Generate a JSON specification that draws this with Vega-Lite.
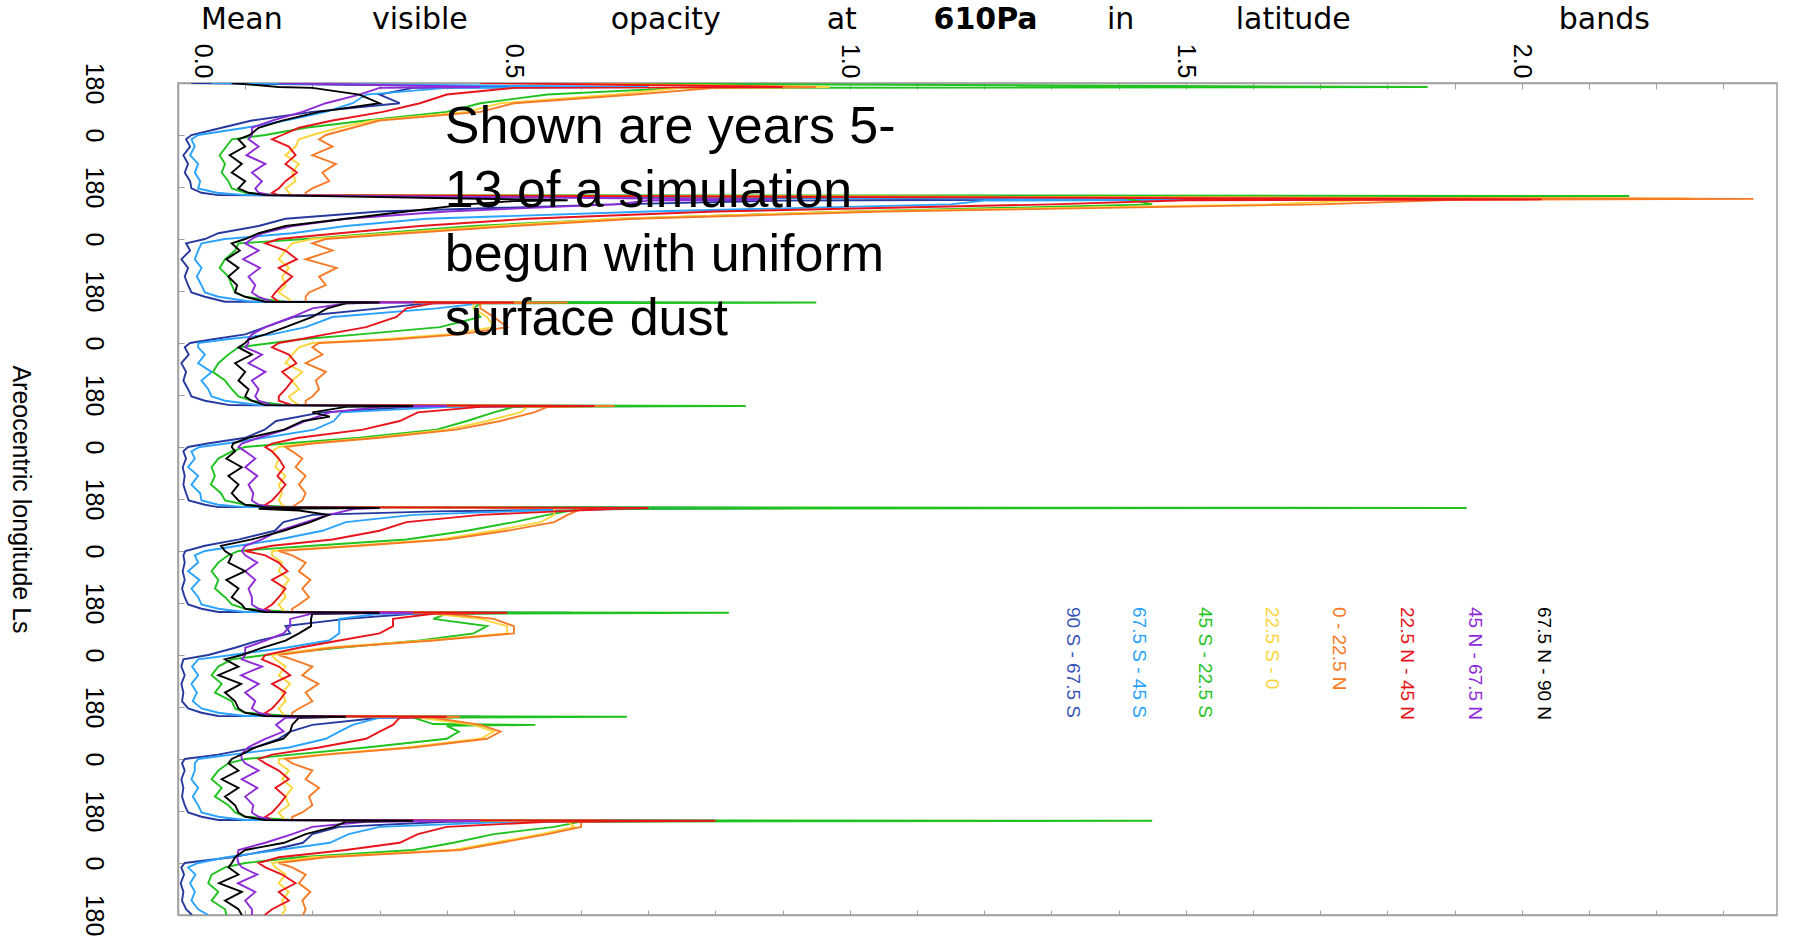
{
"$schema":"https://vega.github.io/schema/vega-lite/v6.json",
"width":1599,"height":832,
"autosize":{"type":"none"},
"padding":{"left":178,"top":83,"right":16,"bottom":21},
"background":"white",
"config":{"view":{"stroke":"#a0a0a0","strokeWidth":1.5},"axis":{"domainColor":"#a0a0a0","tickColor":"#a0a0a0","labelColor":"#000000","grid":false,"labelFont":"Liberation Sans","titleFont":"Liberation Sans","titleColor":"#000000"}},
"resolve":{"axis":{"x":"independent","y":"independent"}},
"layer":[
{"data":{"values":[
{"s":8,"l":0,"v":0.02},{"s":8,"l":14,"v":0.55},{"s":8,"l":17,"v":0.35},{"s":8,"l":40,"v":0.3},{"s":8,"l":70,"v":0.33},{"s":8,"l":100,"v":0.2},{"s":8,"l":130,"v":0.11},{"s":8,"l":155,"v":0.065},
{"s":8,"l":180,"v":0.02},{"s":8,"l":195,"v":0.012},{"s":8,"l":220,"v":0.018},{"s":8,"l":250,"v":0.008},{"s":8,"l":280,"v":0.015},{"s":8,"l":310,"v":0.01},{"s":8,"l":340,"v":0.018},{"s":8,"l":365,"v":0.02},{"s":8,"l":380,"v":0.035},{"s":8,"l":388,"v":0.06},
{"s":8,"l":404,"v":1.33},{"s":8,"l":407,"v":0.9},{"s":8,"l":420,"v":0.65},{"s":8,"l":445,"v":0.3},{"s":8,"l":470,"v":0.16},{"s":8,"l":495,"v":0.12},{"s":8,"l":520,"v":0.06},
{"s":8,"l":540,"v":0.04},{"s":8,"l":555,"v":0.012},{"s":8,"l":580,"v":0.018},{"s":8,"l":610,"v":0.005},{"s":8,"l":640,"v":0.015},{"s":8,"l":670,"v":0.01},{"s":8,"l":700,"v":0.015},{"s":8,"l":725,"v":0.02},{"s":8,"l":740,"v":0.04},{"s":8,"l":757,"v":0.07},
{"s":8,"l":760,"v":0.55},{"s":8,"l":763,"v":0.37},{"s":8,"l":780,"v":0.3},{"s":8,"l":810,"v":0.172},{"s":8,"l":845,"v":0.13},{"s":8,"l":870,"v":0.1},{"s":8,"l":888,"v":0.05},
{"s":8,"l":900,"v":0.018},{"s":8,"l":915,"v":0.01},{"s":8,"l":940,"v":0.016},{"s":8,"l":970,"v":0.005},{"s":8,"l":1000,"v":0.012},{"s":8,"l":1030,"v":0.008},{"s":8,"l":1060,"v":0.015},{"s":8,"l":1085,"v":0.02},{"s":8,"l":1100,"v":0.04},{"s":8,"l":1115,"v":0.077},
{"s":8,"l":1118,"v":0.53},{"s":8,"l":1121,"v":0.35},{"s":8,"l":1140,"v":0.214},{"s":8,"l":1170,"v":0.146},{"s":8,"l":1200,"v":0.129},{"s":8,"l":1228,"v":0.1},{"s":8,"l":1248,"v":0.044},
{"s":8,"l":1260,"v":0.015},{"s":8,"l":1275,"v":0.008},{"s":8,"l":1300,"v":0.012},{"s":8,"l":1330,"v":0.007},{"s":8,"l":1360,"v":0.01},{"s":8,"l":1390,"v":0.008},{"s":8,"l":1420,"v":0.012},{"s":8,"l":1445,"v":0.016},{"s":8,"l":1460,"v":0.04},{"s":8,"l":1468,"v":0.06},
{"s":8,"l":1471,"v":0.94},{"s":8,"l":1474,"v":0.7},{"s":8,"l":1483,"v":0.383},{"s":8,"l":1495,"v":0.2},{"s":8,"l":1520,"v":0.157},{"s":8,"l":1550,"v":0.144},{"s":8,"l":1580,"v":0.091},{"s":8,"l":1602,"v":0.04},
{"s":8,"l":1620,"v":0.011},{"s":8,"l":1635,"v":0.008},{"s":8,"l":1660,"v":0.01},{"s":8,"l":1690,"v":0.007},{"s":8,"l":1720,"v":0.01},{"s":8,"l":1750,"v":0.006},{"s":8,"l":1780,"v":0.01},{"s":8,"l":1805,"v":0.015},{"s":8,"l":1820,"v":0.035},{"s":8,"l":1831,"v":0.06},
{"s":8,"l":1834,"v":0.585},{"s":8,"l":1837,"v":0.35},{"s":8,"l":1855,"v":0.25},{"s":8,"l":1880,"v":0.16},{"s":8,"l":1905,"v":0.167},{"s":8,"l":1930,"v":0.12},{"s":8,"l":1955,"v":0.085},
{"s":8,"l":1980,"v":0.045},{"s":8,"l":1995,"v":0.008},{"s":8,"l":2020,"v":0.005},{"s":8,"l":2050,"v":0.01},{"s":8,"l":2080,"v":0.005},{"s":8,"l":2110,"v":0.008},{"s":8,"l":2140,"v":0.006},{"s":8,"l":2165,"v":0.015},{"s":8,"l":2180,"v":0.035},{"s":8,"l":2191,"v":0.06},
{"s":8,"l":2194,"v":0.45},{"s":8,"l":2197,"v":0.3},{"s":8,"l":2222,"v":0.2},{"s":8,"l":2245,"v":0.167},{"s":8,"l":2270,"v":0.15},{"s":8,"l":2300,"v":0.115},{"s":8,"l":2325,"v":0.06},
{"s":8,"l":2340,"v":0.01},{"s":8,"l":2355,"v":0.006},{"s":8,"l":2380,"v":0.01},{"s":8,"l":2410,"v":0.005},{"s":8,"l":2440,"v":0.008},{"s":8,"l":2470,"v":0.006},{"s":8,"l":2500,"v":0.01},{"s":8,"l":2525,"v":0.015},{"s":8,"l":2540,"v":0.035},{"s":8,"l":2551,"v":0.06},
{"s":8,"l":2554,"v":0.66},{"s":8,"l":2557,"v":0.4},{"s":8,"l":2575,"v":0.24},{"s":8,"l":2600,"v":0.2},{"s":8,"l":2630,"v":0.186},{"s":8,"l":2655,"v":0.14},{"s":8,"l":2680,"v":0.08},
{"s":8,"l":2700,"v":0.01},{"s":8,"l":2715,"v":0.005},{"s":8,"l":2740,"v":0.009},{"s":8,"l":2770,"v":0.004},{"s":8,"l":2800,"v":0.008},{"s":8,"l":2830,"v":0.006},{"s":8,"l":2860,"v":0.012},{"s":8,"l":2880,"v":0.021},

{"s":7,"l":0,"v":0.05},{"s":7,"l":14,"v":0.7},{"s":7,"l":17,"v":0.4},{"s":7,"l":40,"v":0.28},{"s":7,"l":70,"v":0.26},{"s":7,"l":100,"v":0.22},{"s":7,"l":130,"v":0.16},{"s":7,"l":155,"v":0.1},
{"s":7,"l":180,"v":0.03},{"s":7,"l":195,"v":0.02},{"s":7,"l":220,"v":0.025},{"s":7,"l":250,"v":0.018},{"s":7,"l":280,"v":0.03},{"s":7,"l":310,"v":0.025},{"s":7,"l":340,"v":0.033},{"s":7,"l":365,"v":0.03},{"s":7,"l":380,"v":0.058},{"s":7,"l":388,"v":0.1},
{"s":7,"l":404,"v":1.52},{"s":7,"l":407,"v":1.2},{"s":7,"l":420,"v":1.15},{"s":7,"l":445,"v":0.7},{"s":7,"l":470,"v":0.37},{"s":7,"l":495,"v":0.25},{"s":7,"l":520,"v":0.17},
{"s":7,"l":540,"v":0.07},{"s":7,"l":555,"v":0.035},{"s":7,"l":580,"v":0.03},{"s":7,"l":610,"v":0.025},{"s":7,"l":640,"v":0.035},{"s":7,"l":670,"v":0.028},{"s":7,"l":700,"v":0.035},{"s":7,"l":725,"v":0.04},{"s":7,"l":740,"v":0.06},{"s":7,"l":757,"v":0.11},
{"s":7,"l":760,"v":0.68},{"s":7,"l":763,"v":0.45},{"s":7,"l":780,"v":0.385},{"s":7,"l":810,"v":0.23},{"s":7,"l":845,"v":0.19},{"s":7,"l":870,"v":0.14},{"s":7,"l":888,"v":0.07},
{"s":7,"l":900,"v":0.03},{"s":7,"l":915,"v":0.03},{"s":7,"l":940,"v":0.04},{"s":7,"l":970,"v":0.03},{"s":7,"l":1000,"v":0.05},{"s":7,"l":1030,"v":0.035},{"s":7,"l":1060,"v":0.045},{"s":7,"l":1085,"v":0.05},{"s":7,"l":1100,"v":0.07},{"s":7,"l":1115,"v":0.12},
{"s":7,"l":1118,"v":0.71},{"s":7,"l":1121,"v":0.4},{"s":7,"l":1140,"v":0.243},{"s":7,"l":1170,"v":0.232},{"s":7,"l":1200,"v":0.203},{"s":7,"l":1228,"v":0.129},{"s":7,"l":1248,"v":0.072},
{"s":7,"l":1260,"v":0.032},{"s":7,"l":1275,"v":0.02},{"s":7,"l":1300,"v":0.025},{"s":7,"l":1330,"v":0.015},{"s":7,"l":1360,"v":0.03},{"s":7,"l":1390,"v":0.02},{"s":7,"l":1420,"v":0.033},{"s":7,"l":1445,"v":0.035},{"s":7,"l":1460,"v":0.06},{"s":7,"l":1468,"v":0.1},
{"s":7,"l":1471,"v":0.8},{"s":7,"l":1474,"v":0.6},{"s":7,"l":1495,"v":0.35},{"s":7,"l":1520,"v":0.25},{"s":7,"l":1550,"v":0.215},{"s":7,"l":1580,"v":0.15},{"s":7,"l":1602,"v":0.09},
{"s":7,"l":1620,"v":0.04},{"s":7,"l":1635,"v":0.025},{"s":7,"l":1660,"v":0.03},{"s":7,"l":1690,"v":0.015},{"s":7,"l":1720,"v":0.032},{"s":7,"l":1750,"v":0.02},{"s":7,"l":1780,"v":0.03},{"s":7,"l":1805,"v":0.035},{"s":7,"l":1820,"v":0.06},{"s":7,"l":1831,"v":0.1},
{"s":7,"l":1834,"v":0.5},{"s":7,"l":1837,"v":0.3},{"s":7,"l":1855,"v":0.24},{"s":7,"l":1880,"v":0.24},{"s":7,"l":1905,"v":0.24},{"s":7,"l":1930,"v":0.225},{"s":7,"l":1955,"v":0.16},
{"s":7,"l":1980,"v":0.08},{"s":7,"l":1995,"v":0.03},{"s":7,"l":2020,"v":0.021},{"s":7,"l":2050,"v":0.03},{"s":7,"l":2080,"v":0.02},{"s":7,"l":2110,"v":0.028},{"s":7,"l":2140,"v":0.022},{"s":7,"l":2165,"v":0.035},{"s":7,"l":2180,"v":0.06},{"s":7,"l":2191,"v":0.1},
{"s":7,"l":2194,"v":0.4},{"s":7,"l":2197,"v":0.3},{"s":7,"l":2222,"v":0.26},{"s":7,"l":2245,"v":0.24},{"s":7,"l":2270,"v":0.22},{"s":7,"l":2300,"v":0.165},{"s":7,"l":2325,"v":0.08},
{"s":7,"l":2340,"v":0.03},{"s":7,"l":2355,"v":0.025},{"s":7,"l":2380,"v":0.025},{"s":7,"l":2410,"v":0.02},{"s":7,"l":2440,"v":0.03},{"s":7,"l":2470,"v":0.022},{"s":7,"l":2500,"v":0.03},{"s":7,"l":2525,"v":0.035},{"s":7,"l":2540,"v":0.06},{"s":7,"l":2551,"v":0.1},
{"s":7,"l":2554,"v":0.8},{"s":7,"l":2557,"v":0.5},{"s":7,"l":2575,"v":0.3},{"s":7,"l":2600,"v":0.254},{"s":7,"l":2630,"v":0.226},{"s":7,"l":2655,"v":0.15},{"s":7,"l":2680,"v":0.072},
{"s":7,"l":2700,"v":0.03},{"s":7,"l":2715,"v":0.015},{"s":7,"l":2740,"v":0.026},{"s":7,"l":2770,"v":0.018},{"s":7,"l":2800,"v":0.025},{"s":7,"l":2830,"v":0.02},{"s":7,"l":2860,"v":0.03},{"s":7,"l":2880,"v":0.045},

{"s":6,"l":0,"v":0.45},{"s":6,"l":14,"v":1.86},{"s":6,"l":17,"v":0.75},{"s":6,"l":40,"v":0.55},{"s":6,"l":70,"v":0.45},{"s":6,"l":100,"v":0.4},{"s":6,"l":130,"v":0.28},{"s":6,"l":155,"v":0.19},
{"s":6,"l":180,"v":0.13},{"s":6,"l":195,"v":0.08},{"s":6,"l":220,"v":0.072},{"s":6,"l":250,"v":0.062},{"s":6,"l":280,"v":0.07},{"s":6,"l":310,"v":0.065},{"s":6,"l":340,"v":0.075},{"s":6,"l":365,"v":0.08},{"s":6,"l":380,"v":0.1},{"s":6,"l":388,"v":0.15},
{"s":6,"l":391,"v":2.16},{"s":6,"l":394,"v":1.4},{"s":6,"l":420,"v":1.45},{"s":6,"l":445,"v":1.0},{"s":6,"l":470,"v":0.66},{"s":6,"l":495,"v":0.44},{"s":6,"l":520,"v":0.3},
{"s":6,"l":540,"v":0.19},{"s":6,"l":555,"v":0.09},{"s":6,"l":580,"v":0.085},{"s":6,"l":610,"v":0.07},{"s":6,"l":640,"v":0.062},{"s":6,"l":670,"v":0.075},{"s":6,"l":700,"v":0.08},{"s":6,"l":725,"v":0.085},{"s":6,"l":740,"v":0.1},{"s":6,"l":757,"v":0.16},
{"s":6,"l":760,"v":0.95},{"s":6,"l":763,"v":0.45},{"s":6,"l":780,"v":0.44},{"s":6,"l":810,"v":0.45},{"s":6,"l":845,"v":0.39},{"s":6,"l":870,"v":0.27},{"s":6,"l":888,"v":0.18},
{"s":6,"l":900,"v":0.14},{"s":6,"l":915,"v":0.09},{"s":6,"l":940,"v":0.075},{"s":6,"l":970,"v":0.06},{"s":6,"l":1000,"v":0.052},{"s":6,"l":1030,"v":0.07},{"s":6,"l":1060,"v":0.08},{"s":6,"l":1085,"v":0.09},{"s":6,"l":1100,"v":0.11},{"s":6,"l":1115,"v":0.16},
{"s":6,"l":1118,"v":0.845},{"s":6,"l":1121,"v":0.5},{"s":6,"l":1140,"v":0.47},{"s":6,"l":1170,"v":0.43},{"s":6,"l":1200,"v":0.385},{"s":6,"l":1228,"v":0.27},{"s":6,"l":1248,"v":0.16},
{"s":6,"l":1260,"v":0.1},{"s":6,"l":1275,"v":0.08},{"s":6,"l":1300,"v":0.06},{"s":6,"l":1330,"v":0.05},{"s":6,"l":1360,"v":0.055},{"s":6,"l":1390,"v":0.049},{"s":6,"l":1420,"v":0.064},{"s":6,"l":1445,"v":0.07},{"s":6,"l":1460,"v":0.1},{"s":6,"l":1468,"v":0.18},
{"s":6,"l":1471,"v":1.918},{"s":6,"l":1474,"v":0.6},{"s":6,"l":1495,"v":0.55},{"s":6,"l":1520,"v":0.5},{"s":6,"l":1550,"v":0.43},{"s":6,"l":1580,"v":0.34},{"s":6,"l":1602,"v":0.2},
{"s":6,"l":1620,"v":0.09},{"s":6,"l":1635,"v":0.075},{"s":6,"l":1660,"v":0.06},{"s":6,"l":1690,"v":0.05},{"s":6,"l":1720,"v":0.06},{"s":6,"l":1750,"v":0.055},{"s":6,"l":1780,"v":0.07},{"s":6,"l":1805,"v":0.08},{"s":6,"l":1820,"v":0.1},{"s":6,"l":1831,"v":0.17},
{"s":6,"l":1834,"v":0.82},{"s":6,"l":1837,"v":0.4},{"s":6,"l":1855,"v":0.38},{"s":6,"l":1880,"v":0.46},{"s":6,"l":1905,"v":0.44},{"s":6,"l":1930,"v":0.36},{"s":6,"l":1955,"v":0.24},
{"s":6,"l":1980,"v":0.13},{"s":6,"l":1995,"v":0.08},{"s":6,"l":2020,"v":0.06},{"s":6,"l":2050,"v":0.05},{"s":6,"l":2080,"v":0.065},{"s":6,"l":2110,"v":0.055},{"s":6,"l":2140,"v":0.08},{"s":6,"l":2165,"v":0.085},{"s":6,"l":2180,"v":0.1},{"s":6,"l":2191,"v":0.17},
{"s":6,"l":2194,"v":0.668},{"s":6,"l":2197,"v":0.35},{"s":6,"l":2219,"v":0.38},{"s":6,"l":2222,"v":0.532},{"s":6,"l":2225,"v":0.4},{"s":6,"l":2245,"v":0.418},{"s":6,"l":2270,"v":0.4},{"s":6,"l":2300,"v":0.28},{"s":6,"l":2325,"v":0.17},
{"s":6,"l":2340,"v":0.1},{"s":6,"l":2355,"v":0.075},{"s":6,"l":2380,"v":0.06},{"s":6,"l":2410,"v":0.05},{"s":6,"l":2440,"v":0.065},{"s":6,"l":2470,"v":0.055},{"s":6,"l":2500,"v":0.075},{"s":6,"l":2525,"v":0.085},{"s":6,"l":2540,"v":0.1},{"s":6,"l":2551,"v":0.17},
{"s":6,"l":2554,"v":1.45},{"s":6,"l":2557,"v":0.6},{"s":6,"l":2575,"v":0.56},{"s":6,"l":2600,"v":0.47},{"s":6,"l":2630,"v":0.41},{"s":6,"l":2655,"v":0.35},{"s":6,"l":2680,"v":0.18},
{"s":6,"l":2700,"v":0.1},{"s":6,"l":2715,"v":0.07},{"s":6,"l":2740,"v":0.05},{"s":6,"l":2770,"v":0.045},{"s":6,"l":2800,"v":0.06},{"s":6,"l":2830,"v":0.05},{"s":6,"l":2860,"v":0.07},{"s":6,"l":2880,"v":0.072},

{"s":5,"l":0,"v":0.5},{"s":5,"l":14,"v":0.97},{"s":5,"l":17,"v":0.75},{"s":5,"l":40,"v":0.65},{"s":5,"l":70,"v":0.48},{"s":5,"l":100,"v":0.43},{"s":5,"l":130,"v":0.29},{"s":5,"l":155,"v":0.24},
{"s":5,"l":180,"v":0.2},{"s":5,"l":195,"v":0.18},{"s":5,"l":220,"v":0.175},{"s":5,"l":250,"v":0.16},{"s":5,"l":280,"v":0.18},{"s":5,"l":310,"v":0.17},{"s":5,"l":340,"v":0.175},{"s":5,"l":365,"v":0.16},{"s":5,"l":380,"v":0.165},{"s":5,"l":388,"v":0.17},
{"s":5,"l":400,"v":2.25},{"s":5,"l":403,"v":1.8},{"s":5,"l":420,"v":1.62},{"s":5,"l":445,"v":1.0},{"s":5,"l":470,"v":0.65},{"s":5,"l":495,"v":0.47},{"s":5,"l":520,"v":0.32},
{"s":5,"l":540,"v":0.2},{"s":5,"l":555,"v":0.17},{"s":5,"l":580,"v":0.16},{"s":5,"l":610,"v":0.15},{"s":5,"l":640,"v":0.165},{"s":5,"l":670,"v":0.155},{"s":5,"l":700,"v":0.16},{"s":5,"l":725,"v":0.15},{"s":5,"l":740,"v":0.16},{"s":5,"l":757,"v":0.17},
{"s":5,"l":760,"v":0.52},{"s":5,"l":763,"v":0.44},{"s":5,"l":780,"v":0.44},{"s":5,"l":810,"v":0.46},{"s":5,"l":845,"v":0.47},{"s":5,"l":870,"v":0.4},{"s":5,"l":888,"v":0.3},
{"s":5,"l":900,"v":0.2},{"s":5,"l":915,"v":0.18},{"s":5,"l":940,"v":0.17},{"s":5,"l":970,"v":0.16},{"s":5,"l":1000,"v":0.185},{"s":5,"l":1030,"v":0.17},{"s":5,"l":1060,"v":0.18},{"s":5,"l":1085,"v":0.165},{"s":5,"l":1100,"v":0.17},{"s":5,"l":1115,"v":0.18},
{"s":5,"l":1118,"v":0.6},{"s":5,"l":1121,"v":0.52},{"s":5,"l":1140,"v":0.51},{"s":5,"l":1170,"v":0.46},{"s":5,"l":1200,"v":0.4},{"s":5,"l":1228,"v":0.29},{"s":5,"l":1248,"v":0.19},
{"s":5,"l":1260,"v":0.15},{"s":5,"l":1275,"v":0.14},{"s":5,"l":1300,"v":0.15},{"s":5,"l":1330,"v":0.145},{"s":5,"l":1360,"v":0.16},{"s":5,"l":1390,"v":0.15},{"s":5,"l":1420,"v":0.155},{"s":5,"l":1445,"v":0.15},{"s":5,"l":1460,"v":0.155},{"s":5,"l":1468,"v":0.16},
{"s":5,"l":1471,"v":0.6},{"s":5,"l":1474,"v":0.56},{"s":5,"l":1495,"v":0.56},{"s":5,"l":1520,"v":0.54},{"s":5,"l":1550,"v":0.47},{"s":5,"l":1580,"v":0.39},{"s":5,"l":1602,"v":0.26},
{"s":5,"l":1620,"v":0.14},{"s":5,"l":1635,"v":0.14},{"s":5,"l":1660,"v":0.155},{"s":5,"l":1690,"v":0.15},{"s":5,"l":1720,"v":0.165},{"s":5,"l":1750,"v":0.155},{"s":5,"l":1780,"v":0.16},{"s":5,"l":1805,"v":0.15},{"s":5,"l":1820,"v":0.155},{"s":5,"l":1831,"v":0.16},
{"s":5,"l":1834,"v":0.42},{"s":5,"l":1837,"v":0.38},{"s":5,"l":1855,"v":0.45},{"s":5,"l":1880,"v":0.49},{"s":5,"l":1905,"v":0.49},{"s":5,"l":1930,"v":0.37},{"s":5,"l":1955,"v":0.22},
{"s":5,"l":1980,"v":0.14},{"s":5,"l":1995,"v":0.145},{"s":5,"l":2020,"v":0.16},{"s":5,"l":2050,"v":0.15},{"s":5,"l":2080,"v":0.167},{"s":5,"l":2110,"v":0.155},{"s":5,"l":2140,"v":0.16},{"s":5,"l":2165,"v":0.15},{"s":5,"l":2180,"v":0.155},{"s":5,"l":2191,"v":0.16},
{"s":5,"l":2194,"v":0.4},{"s":5,"l":2197,"v":0.36},{"s":5,"l":2222,"v":0.44},{"s":5,"l":2245,"v":0.47},{"s":5,"l":2270,"v":0.45},{"s":5,"l":2300,"v":0.34},{"s":5,"l":2325,"v":0.21},
{"s":5,"l":2340,"v":0.15},{"s":5,"l":2355,"v":0.15},{"s":5,"l":2380,"v":0.165},{"s":5,"l":2410,"v":0.155},{"s":5,"l":2440,"v":0.17},{"s":5,"l":2470,"v":0.16},{"s":5,"l":2500,"v":0.165},{"s":5,"l":2525,"v":0.15},{"s":5,"l":2540,"v":0.155},{"s":5,"l":2551,"v":0.16},
{"s":5,"l":2554,"v":0.62},{"s":5,"l":2557,"v":0.58},{"s":5,"l":2575,"v":0.59},{"s":5,"l":2600,"v":0.54},{"s":5,"l":2630,"v":0.47},{"s":5,"l":2655,"v":0.41},{"s":5,"l":2680,"v":0.2},
{"s":5,"l":2700,"v":0.14},{"s":5,"l":2715,"v":0.145},{"s":5,"l":2740,"v":0.16},{"s":5,"l":2770,"v":0.15},{"s":5,"l":2800,"v":0.165},{"s":5,"l":2830,"v":0.155},{"s":5,"l":2860,"v":0.16},{"s":5,"l":2880,"v":0.155},

{"s":4,"l":0,"v":0.55},{"s":4,"l":14,"v":0.95},{"s":4,"l":17,"v":0.8},{"s":4,"l":40,"v":0.68},{"s":4,"l":70,"v":0.5},{"s":4,"l":100,"v":0.45},{"s":4,"l":130,"v":0.3},{"s":4,"l":155,"v":0.26},
{"s":4,"l":180,"v":0.22},{"s":4,"l":195,"v":0.21},{"s":4,"l":220,"v":0.23},{"s":4,"l":250,"v":0.2},{"s":4,"l":280,"v":0.235},{"s":4,"l":310,"v":0.215},{"s":4,"l":340,"v":0.225},{"s":4,"l":365,"v":0.2},{"s":4,"l":380,"v":0.19},{"s":4,"l":388,"v":0.19},
{"s":4,"l":401,"v":2.345},{"s":4,"l":404,"v":1.9},{"s":4,"l":420,"v":1.7},{"s":4,"l":445,"v":1.05},{"s":4,"l":470,"v":0.68},{"s":4,"l":495,"v":0.5},{"s":4,"l":520,"v":0.34},
{"s":4,"l":540,"v":0.22},{"s":4,"l":555,"v":0.2},{"s":4,"l":580,"v":0.23},{"s":4,"l":610,"v":0.19},{"s":4,"l":640,"v":0.236},{"s":4,"l":670,"v":0.21},{"s":4,"l":700,"v":0.22},{"s":4,"l":725,"v":0.195},{"s":4,"l":740,"v":0.19},{"s":4,"l":757,"v":0.19},
{"s":4,"l":760,"v":0.58},{"s":4,"l":763,"v":0.45},{"s":4,"l":780,"v":0.45},{"s":4,"l":810,"v":0.47},{"s":4,"l":845,"v":0.49},{"s":4,"l":870,"v":0.42},{"s":4,"l":888,"v":0.32},
{"s":4,"l":900,"v":0.21},{"s":4,"l":915,"v":0.2},{"s":4,"l":940,"v":0.215},{"s":4,"l":970,"v":0.19},{"s":4,"l":1000,"v":0.22},{"s":4,"l":1030,"v":0.205},{"s":4,"l":1060,"v":0.21},{"s":4,"l":1085,"v":0.2},{"s":4,"l":1100,"v":0.19},{"s":4,"l":1115,"v":0.19},
{"s":4,"l":1118,"v":0.65},{"s":4,"l":1121,"v":0.55},{"s":4,"l":1140,"v":0.53},{"s":4,"l":1170,"v":0.48},{"s":4,"l":1200,"v":0.414},{"s":4,"l":1228,"v":0.3},{"s":4,"l":1248,"v":0.2},
{"s":4,"l":1260,"v":0.16},{"s":4,"l":1275,"v":0.17},{"s":4,"l":1300,"v":0.185},{"s":4,"l":1330,"v":0.175},{"s":4,"l":1360,"v":0.19},{"s":4,"l":1390,"v":0.18},{"s":4,"l":1420,"v":0.19},{"s":4,"l":1445,"v":0.185},{"s":4,"l":1460,"v":0.175},{"s":4,"l":1468,"v":0.17},
{"s":4,"l":1471,"v":0.65},{"s":4,"l":1474,"v":0.6},{"s":4,"l":1495,"v":0.58},{"s":4,"l":1520,"v":0.56},{"s":4,"l":1550,"v":0.49},{"s":4,"l":1580,"v":0.4},{"s":4,"l":1602,"v":0.27},
{"s":4,"l":1620,"v":0.15},{"s":4,"l":1635,"v":0.17},{"s":4,"l":1660,"v":0.19},{"s":4,"l":1690,"v":0.18},{"s":4,"l":1720,"v":0.197},{"s":4,"l":1750,"v":0.185},{"s":4,"l":1780,"v":0.195},{"s":4,"l":1805,"v":0.18},{"s":4,"l":1820,"v":0.17},{"s":4,"l":1831,"v":0.17},
{"s":4,"l":1834,"v":0.45},{"s":4,"l":1837,"v":0.4},{"s":4,"l":1855,"v":0.47},{"s":4,"l":1880,"v":0.5},{"s":4,"l":1905,"v":0.5},{"s":4,"l":1930,"v":0.38},{"s":4,"l":1955,"v":0.23},
{"s":4,"l":1980,"v":0.15},{"s":4,"l":1995,"v":0.17},{"s":4,"l":2020,"v":0.2},{"s":4,"l":2050,"v":0.185},{"s":4,"l":2080,"v":0.209},{"s":4,"l":2110,"v":0.19},{"s":4,"l":2140,"v":0.2},{"s":4,"l":2165,"v":0.18},{"s":4,"l":2180,"v":0.17},{"s":4,"l":2191,"v":0.17},
{"s":4,"l":2194,"v":0.42},{"s":4,"l":2197,"v":0.38},{"s":4,"l":2222,"v":0.45},{"s":4,"l":2245,"v":0.48},{"s":4,"l":2270,"v":0.46},{"s":4,"l":2300,"v":0.35},{"s":4,"l":2325,"v":0.22},
{"s":4,"l":2340,"v":0.16},{"s":4,"l":2355,"v":0.17},{"s":4,"l":2380,"v":0.2},{"s":4,"l":2410,"v":0.19},{"s":4,"l":2440,"v":0.21},{"s":4,"l":2470,"v":0.195},{"s":4,"l":2500,"v":0.2},{"s":4,"l":2525,"v":0.185},{"s":4,"l":2540,"v":0.17},{"s":4,"l":2551,"v":0.17},
{"s":4,"l":2554,"v":0.65},{"s":4,"l":2557,"v":0.6},{"s":4,"l":2575,"v":0.6},{"s":4,"l":2600,"v":0.55},{"s":4,"l":2630,"v":0.48},{"s":4,"l":2655,"v":0.42},{"s":4,"l":2680,"v":0.22},
{"s":4,"l":2700,"v":0.15},{"s":4,"l":2715,"v":0.17},{"s":4,"l":2740,"v":0.19},{"s":4,"l":2770,"v":0.18},{"s":4,"l":2800,"v":0.197},{"s":4,"l":2830,"v":0.185},{"s":4,"l":2860,"v":0.19},{"s":4,"l":2880,"v":0.186},

{"s":3,"l":0,"v":0.45},{"s":3,"l":14,"v":0.9},{"s":3,"l":17,"v":0.5},{"s":3,"l":40,"v":0.4},{"s":3,"l":70,"v":0.36},{"s":3,"l":100,"v":0.305},{"s":3,"l":130,"v":0.23},{"s":3,"l":155,"v":0.18},
{"s":3,"l":180,"v":0.155},{"s":3,"l":195,"v":0.14},{"s":3,"l":220,"v":0.165},{"s":3,"l":250,"v":0.175},{"s":3,"l":280,"v":0.16},{"s":3,"l":310,"v":0.177},{"s":3,"l":340,"v":0.16},{"s":3,"l":365,"v":0.15},{"s":3,"l":380,"v":0.14},{"s":3,"l":388,"v":0.15},
{"s":3,"l":403,"v":2.03},{"s":3,"l":406,"v":1.5},{"s":3,"l":420,"v":1.3},{"s":3,"l":445,"v":0.8},{"s":3,"l":470,"v":0.52},{"s":3,"l":495,"v":0.36},{"s":3,"l":520,"v":0.24},
{"s":3,"l":540,"v":0.15},{"s":3,"l":555,"v":0.13},{"s":3,"l":580,"v":0.16},{"s":3,"l":610,"v":0.177},{"s":3,"l":640,"v":0.15},{"s":3,"l":670,"v":0.17},{"s":3,"l":700,"v":0.155},{"s":3,"l":725,"v":0.145},{"s":3,"l":740,"v":0.14},{"s":3,"l":757,"v":0.15},
{"s":3,"l":760,"v":0.5},{"s":3,"l":763,"v":0.38},{"s":3,"l":780,"v":0.34},{"s":3,"l":810,"v":0.325},{"s":3,"l":845,"v":0.28},{"s":3,"l":870,"v":0.22},{"s":3,"l":888,"v":0.18},
{"s":3,"l":900,"v":0.15},{"s":3,"l":915,"v":0.14},{"s":3,"l":940,"v":0.165},{"s":3,"l":970,"v":0.176},{"s":3,"l":1000,"v":0.155},{"s":3,"l":1030,"v":0.17},{"s":3,"l":1060,"v":0.16},{"s":3,"l":1085,"v":0.15},{"s":3,"l":1100,"v":0.15},{"s":3,"l":1115,"v":0.17},
{"s":3,"l":1118,"v":0.62},{"s":3,"l":1121,"v":0.45},{"s":3,"l":1140,"v":0.357},{"s":3,"l":1170,"v":0.33},{"s":3,"l":1200,"v":0.275},{"s":3,"l":1228,"v":0.18},{"s":3,"l":1248,"v":0.14},
{"s":3,"l":1260,"v":0.13},{"s":3,"l":1275,"v":0.14},{"s":3,"l":1300,"v":0.15},{"s":3,"l":1330,"v":0.158},{"s":3,"l":1360,"v":0.148},{"s":3,"l":1390,"v":0.16},{"s":3,"l":1420,"v":0.15},{"s":3,"l":1445,"v":0.14},{"s":3,"l":1460,"v":0.13},{"s":3,"l":1468,"v":0.14},
{"s":3,"l":1471,"v":0.7},{"s":3,"l":1474,"v":0.65},{"s":3,"l":1495,"v":0.45},{"s":3,"l":1520,"v":0.34},{"s":3,"l":1550,"v":0.3},{"s":3,"l":1580,"v":0.23},{"s":3,"l":1602,"v":0.14},
{"s":3,"l":1620,"v":0.1},{"s":3,"l":1635,"v":0.13},{"s":3,"l":1660,"v":0.15},{"s":3,"l":1690,"v":0.163},{"s":3,"l":1720,"v":0.14},{"s":3,"l":1750,"v":0.16},{"s":3,"l":1780,"v":0.15},{"s":3,"l":1805,"v":0.14},{"s":3,"l":1820,"v":0.13},{"s":3,"l":1831,"v":0.14},
{"s":3,"l":1834,"v":0.49},{"s":3,"l":1837,"v":0.38},{"s":3,"l":1855,"v":0.32},{"s":3,"l":1880,"v":0.32},{"s":3,"l":1905,"v":0.3},{"s":3,"l":1930,"v":0.24},{"s":3,"l":1955,"v":0.18},
{"s":3,"l":1980,"v":0.13},{"s":3,"l":1995,"v":0.125},{"s":3,"l":2020,"v":0.15},{"s":3,"l":2050,"v":0.167},{"s":3,"l":2080,"v":0.14},{"s":3,"l":2110,"v":0.16},{"s":3,"l":2140,"v":0.15},{"s":3,"l":2165,"v":0.14},{"s":3,"l":2180,"v":0.13},{"s":3,"l":2191,"v":0.14},
{"s":3,"l":2194,"v":0.4},{"s":3,"l":2197,"v":0.33},{"s":3,"l":2222,"v":0.32},{"s":3,"l":2245,"v":0.3},{"s":3,"l":2270,"v":0.28},{"s":3,"l":2300,"v":0.21},{"s":3,"l":2325,"v":0.14},
{"s":3,"l":2340,"v":0.12},{"s":3,"l":2355,"v":0.13},{"s":3,"l":2380,"v":0.15},{"s":3,"l":2410,"v":0.165},{"s":3,"l":2440,"v":0.145},{"s":3,"l":2470,"v":0.16},{"s":3,"l":2500,"v":0.15},{"s":3,"l":2525,"v":0.14},{"s":3,"l":2540,"v":0.13},{"s":3,"l":2551,"v":0.14},
{"s":3,"l":2554,"v":0.8},{"s":3,"l":2557,"v":0.55},{"s":3,"l":2575,"v":0.4},{"s":3,"l":2600,"v":0.357},{"s":3,"l":2630,"v":0.33},{"s":3,"l":2655,"v":0.25},{"s":3,"l":2680,"v":0.15},
{"s":3,"l":2700,"v":0.12},{"s":3,"l":2715,"v":0.13},{"s":3,"l":2740,"v":0.155},{"s":3,"l":2770,"v":0.175},{"s":3,"l":2800,"v":0.15},{"s":3,"l":2830,"v":0.165},{"s":3,"l":2860,"v":0.14},{"s":3,"l":2880,"v":0.129},

{"s":2,"l":0,"v":0.15},{"s":2,"l":14,"v":0.45},{"s":2,"l":17,"v":0.3},{"s":2,"l":40,"v":0.27},{"s":2,"l":70,"v":0.22},{"s":2,"l":100,"v":0.185},{"s":2,"l":130,"v":0.14},{"s":2,"l":155,"v":0.11},
{"s":2,"l":180,"v":0.11},{"s":2,"l":195,"v":0.105},{"s":2,"l":220,"v":0.12},{"s":2,"l":250,"v":0.102},{"s":2,"l":280,"v":0.13},{"s":2,"l":310,"v":0.11},{"s":2,"l":340,"v":0.125},{"s":2,"l":365,"v":0.115},{"s":2,"l":380,"v":0.12},{"s":2,"l":388,"v":0.14},
{"s":2,"l":404,"v":0.89},{"s":2,"l":407,"v":0.7},{"s":2,"l":420,"v":0.65},{"s":2,"l":445,"v":0.4},{"s":2,"l":470,"v":0.25},{"s":2,"l":495,"v":0.17},{"s":2,"l":520,"v":0.125},
{"s":2,"l":540,"v":0.11},{"s":2,"l":555,"v":0.1},{"s":2,"l":580,"v":0.12},{"s":2,"l":610,"v":0.097},{"s":2,"l":640,"v":0.122},{"s":2,"l":670,"v":0.105},{"s":2,"l":700,"v":0.115},{"s":2,"l":725,"v":0.11},{"s":2,"l":740,"v":0.12},{"s":2,"l":757,"v":0.14},
{"s":2,"l":760,"v":0.35},{"s":2,"l":763,"v":0.25},{"s":2,"l":780,"v":0.2},{"s":2,"l":810,"v":0.17},{"s":2,"l":845,"v":0.13},{"s":2,"l":870,"v":0.11},{"s":2,"l":888,"v":0.104},
{"s":2,"l":900,"v":0.105},{"s":2,"l":915,"v":0.1},{"s":2,"l":940,"v":0.125},{"s":2,"l":970,"v":0.105},{"s":2,"l":1000,"v":0.13},{"s":2,"l":1030,"v":0.11},{"s":2,"l":1060,"v":0.12},{"s":2,"l":1085,"v":0.115},{"s":2,"l":1100,"v":0.12},{"s":2,"l":1115,"v":0.14},
{"s":2,"l":1118,"v":0.4},{"s":2,"l":1121,"v":0.3},{"s":2,"l":1140,"v":0.226},{"s":2,"l":1170,"v":0.19},{"s":2,"l":1200,"v":0.16},{"s":2,"l":1228,"v":0.12},{"s":2,"l":1248,"v":0.095},
{"s":2,"l":1260,"v":0.09},{"s":2,"l":1275,"v":0.1},{"s":2,"l":1300,"v":0.115},{"s":2,"l":1330,"v":0.1},{"s":2,"l":1360,"v":0.118},{"s":2,"l":1390,"v":0.105},{"s":2,"l":1420,"v":0.112},{"s":2,"l":1445,"v":0.11},{"s":2,"l":1460,"v":0.12},{"s":2,"l":1468,"v":0.14},
{"s":2,"l":1471,"v":0.3},{"s":2,"l":1474,"v":0.263},{"s":2,"l":1495,"v":0.224},{"s":2,"l":1520,"v":0.19},{"s":2,"l":1550,"v":0.15},{"s":2,"l":1580,"v":0.125},{"s":2,"l":1602,"v":0.1},
{"s":2,"l":1620,"v":0.095},{"s":2,"l":1635,"v":0.1},{"s":2,"l":1660,"v":0.118},{"s":2,"l":1690,"v":0.1},{"s":2,"l":1720,"v":0.115},{"s":2,"l":1750,"v":0.105},{"s":2,"l":1780,"v":0.11},{"s":2,"l":1805,"v":0.11},{"s":2,"l":1820,"v":0.12},{"s":2,"l":1831,"v":0.14},
{"s":2,"l":1834,"v":0.35},{"s":2,"l":1837,"v":0.2},{"s":2,"l":1855,"v":0.167},{"s":2,"l":1880,"v":0.167},{"s":2,"l":1905,"v":0.157},{"s":2,"l":1930,"v":0.13},{"s":2,"l":1955,"v":0.1},
{"s":2,"l":1980,"v":0.1},{"s":2,"l":1995,"v":0.095},{"s":2,"l":2020,"v":0.125},{"s":2,"l":2050,"v":0.094},{"s":2,"l":2080,"v":0.12},{"s":2,"l":2110,"v":0.1},{"s":2,"l":2140,"v":0.115},{"s":2,"l":2165,"v":0.11},{"s":2,"l":2180,"v":0.12},{"s":2,"l":2191,"v":0.14},
{"s":2,"l":2194,"v":0.25},{"s":2,"l":2197,"v":0.16},{"s":2,"l":2222,"v":0.146},{"s":2,"l":2245,"v":0.157},{"s":2,"l":2270,"v":0.13},{"s":2,"l":2300,"v":0.104},{"s":2,"l":2325,"v":0.094},
{"s":2,"l":2340,"v":0.095},{"s":2,"l":2355,"v":0.1},{"s":2,"l":2380,"v":0.12},{"s":2,"l":2410,"v":0.095},{"s":2,"l":2440,"v":0.118},{"s":2,"l":2470,"v":0.1},{"s":2,"l":2500,"v":0.112},{"s":2,"l":2525,"v":0.11},{"s":2,"l":2540,"v":0.12},{"s":2,"l":2551,"v":0.14},
{"s":2,"l":2554,"v":0.45},{"s":2,"l":2557,"v":0.28},{"s":2,"l":2575,"v":0.2},{"s":2,"l":2600,"v":0.17},{"s":2,"l":2630,"v":0.13},{"s":2,"l":2655,"v":0.09},{"s":2,"l":2680,"v":0.088},
{"s":2,"l":2700,"v":0.09},{"s":2,"l":2715,"v":0.095},{"s":2,"l":2740,"v":0.118},{"s":2,"l":2770,"v":0.089},{"s":2,"l":2800,"v":0.115},{"s":2,"l":2830,"v":0.1},{"s":2,"l":2860,"v":0.11},{"s":2,"l":2880,"v":0.11},

{"s":1,"l":0,"v":0.08},{"s":1,"l":14,"v":0.15},{"s":1,"l":17,"v":0.2},{"s":1,"l":40,"v":0.27},{"s":1,"l":70,"v":0.3},{"s":1,"l":100,"v":0.21},{"s":1,"l":130,"v":0.155},{"s":1,"l":155,"v":0.12},
{"s":1,"l":180,"v":0.107},{"s":1,"l":195,"v":0.09},{"s":1,"l":220,"v":0.1},{"s":1,"l":250,"v":0.077},{"s":1,"l":280,"v":0.095},{"s":1,"l":310,"v":0.08},{"s":1,"l":340,"v":0.1},{"s":1,"l":365,"v":0.09},{"s":1,"l":380,"v":0.105},{"s":1,"l":388,"v":0.13},
{"s":1,"l":406,"v":0.58},{"s":1,"l":409,"v":0.5},{"s":1,"l":420,"v":0.43},{"s":1,"l":445,"v":0.34},{"s":1,"l":470,"v":0.25},{"s":1,"l":495,"v":0.16},{"s":1,"l":520,"v":0.12},
{"s":1,"l":540,"v":0.1},{"s":1,"l":555,"v":0.08},{"s":1,"l":580,"v":0.092},{"s":1,"l":610,"v":0.072},{"s":1,"l":640,"v":0.09},{"s":1,"l":670,"v":0.075},{"s":1,"l":700,"v":0.088},{"s":1,"l":725,"v":0.085},{"s":1,"l":740,"v":0.1},{"s":1,"l":757,"v":0.13},
{"s":1,"l":760,"v":0.3},{"s":1,"l":763,"v":0.25},{"s":1,"l":780,"v":0.222},{"s":1,"l":810,"v":0.2},{"s":1,"l":845,"v":0.16},{"s":1,"l":870,"v":0.13},{"s":1,"l":888,"v":0.105},
{"s":1,"l":900,"v":0.1},{"s":1,"l":915,"v":0.09},{"s":1,"l":940,"v":0.11},{"s":1,"l":970,"v":0.085},{"s":1,"l":1000,"v":0.1},{"s":1,"l":1030,"v":0.09},{"s":1,"l":1060,"v":0.105},{"s":1,"l":1085,"v":0.1},{"s":1,"l":1100,"v":0.11},{"s":1,"l":1115,"v":0.13},
{"s":1,"l":1118,"v":0.35},{"s":1,"l":1121,"v":0.25},{"s":1,"l":1140,"v":0.2},{"s":1,"l":1155,"v":0.226},{"s":1,"l":1170,"v":0.186},{"s":1,"l":1200,"v":0.158},{"s":1,"l":1228,"v":0.105},{"s":1,"l":1248,"v":0.082},
{"s":1,"l":1260,"v":0.08},{"s":1,"l":1275,"v":0.085},{"s":1,"l":1300,"v":0.072},{"s":1,"l":1330,"v":0.095},{"s":1,"l":1360,"v":0.075},{"s":1,"l":1390,"v":0.09},{"s":1,"l":1420,"v":0.08},{"s":1,"l":1445,"v":0.09},{"s":1,"l":1460,"v":0.1},{"s":1,"l":1468,"v":0.13},
{"s":1,"l":1471,"v":0.3},{"s":1,"l":1474,"v":0.12},{"s":1,"l":1480,"v":0.18},{"s":1,"l":1495,"v":0.224},{"s":1,"l":1520,"v":0.197},{"s":1,"l":1550,"v":0.157},{"s":1,"l":1580,"v":0.11},{"s":1,"l":1602,"v":0.064},
{"s":1,"l":1620,"v":0.07},{"s":1,"l":1635,"v":0.08},{"s":1,"l":1660,"v":0.075},{"s":1,"l":1690,"v":0.1},{"s":1,"l":1720,"v":0.072},{"s":1,"l":1750,"v":0.09},{"s":1,"l":1780,"v":0.08},{"s":1,"l":1805,"v":0.095},{"s":1,"l":1820,"v":0.1},{"s":1,"l":1831,"v":0.13},
{"s":1,"l":1834,"v":0.3},{"s":1,"l":1837,"v":0.2},{"s":1,"l":1855,"v":0.198},{"s":1,"l":1880,"v":0.198},{"s":1,"l":1905,"v":0.18},{"s":1,"l":1930,"v":0.16},{"s":1,"l":1955,"v":0.125},
{"s":1,"l":1980,"v":0.095},{"s":1,"l":1995,"v":0.07},{"s":1,"l":2020,"v":0.09},{"s":1,"l":2050,"v":0.06},{"s":1,"l":2080,"v":0.094},{"s":1,"l":2110,"v":0.07},{"s":1,"l":2140,"v":0.085},{"s":1,"l":2165,"v":0.09},{"s":1,"l":2180,"v":0.1},{"s":1,"l":2191,"v":0.13},
{"s":1,"l":2194,"v":0.25},{"s":1,"l":2197,"v":0.18},{"s":1,"l":2222,"v":0.17},{"s":1,"l":2245,"v":0.167},{"s":1,"l":2270,"v":0.157},{"s":1,"l":2300,"v":0.115},{"s":1,"l":2325,"v":0.094},
{"s":1,"l":2340,"v":0.08},{"s":1,"l":2355,"v":0.075},{"s":1,"l":2380,"v":0.09},{"s":1,"l":2410,"v":0.065},{"s":1,"l":2440,"v":0.09},{"s":1,"l":2470,"v":0.07},{"s":1,"l":2500,"v":0.085},{"s":1,"l":2525,"v":0.09},{"s":1,"l":2540,"v":0.1},{"s":1,"l":2551,"v":0.13},
{"s":1,"l":2554,"v":0.35},{"s":1,"l":2557,"v":0.25},{"s":1,"l":2575,"v":0.232},{"s":1,"l":2600,"v":0.19},{"s":1,"l":2630,"v":0.158},{"s":1,"l":2655,"v":0.1},{"s":1,"l":2680,"v":0.085},
{"s":1,"l":2700,"v":0.08},{"s":1,"l":2715,"v":0.075},{"s":1,"l":2740,"v":0.09},{"s":1,"l":2770,"v":0.061},{"s":1,"l":2800,"v":0.095},{"s":1,"l":2830,"v":0.07},{"s":1,"l":2860,"v":0.09},{"s":1,"l":2880,"v":0.095}
]},
"mark":{"type":"line","strokeWidth":1.9,"clip":true,"interpolate":"linear"},
"encoding":{
"x":{"field":"v","type":"quantitative","scale":{"domain":[0,2.38],"nice":false,"zero":false},
"axis":{"orient":"top","values":[0,0.1,0.2,0.3,0.4,0.5,0.6,0.7,0.8,0.9,1,1.1,1.2,1.3,1.4,1.5,1.6,1.7,1.8,1.9,2,2.1,2.2,2.3],"labelExpr":"(round(datum.value*10) % 5 == 0) ? format(datum.value, '.1f') : ''","labelAngle":90,"labelAlign":"right","labelBaseline":"middle","labelFontSize":25,"labelPadding":11,"labelOffset":{"condition":{"test":"datum.value == 0","value":24},"value":0},"tickSize":-6,"domainWidth":1.5,"title":null,"labelOverlap":false,"labelFlush":false,"labelBound":false}},
"y":{"field":"l","type":"quantitative","scale":{"domain":[0,2880],"nice":false,"zero":false,"reverse":true},
"axis":{"orient":"left","values":[0,180,360,540,720,900,1080,1260,1440,1620,1800,1980,2160,2340,2520,2700,2880],"labelExpr":"datum.value % 360 == 0 ? '180' : '0'","labelAngle":90,"labelAlign":"center","labelBaseline":"top","labelFontSize":25,"labelPadding":79,"tickSize":-6,"domainWidth":1.5,"labelOverlap":false,"labelFlush":false,"labelBound":false,"title":"Areocentric longitude Ls","titleAngle":90,"titleBaseline":"top","titleFontSize":25,"titleFontWeight":"normal","titlePadding":48}},
"color":{"field":"s","type":"nominal","scale":{"domain":[1,2,3,4,5,6,7,8],"range":["#000000","#8e2bd8","#e8141c","#f77b27","#fcd63c","#1fc21f","#2aa3ff","#26399e"]},"legend":null},
"order":{"field":"l","type":"quantitative"}
}},
{"data":{"values":[{}]},"mark":{"type":"text","text":["Shown are years 5-","13 of a simulation","begun with uniform","surface dust"],"font":"Liberation Sans","fontSize":52,"lineHeight":64,"align":"left","baseline":"alphabetic","color":"#000000"},
"encoding":{"x":{"datum":0.397,"axis":{"orient":"bottom","values":[0,0.1,0.2,0.3,0.4,0.5,0.6,0.7,0.8,0.9,1,1.1,1.2,1.3,1.4,1.5,1.6,1.7,1.8,1.9,2,2.1,2.2,2.3],"labels":false,"tickSize":-5,"domainWidth":1.5,"title":null}},"y":{"datum":208,"axis":null}}},
{"data":{"values":[{}]},"mark":{"type":"text","text":"67.5 N - 90 N","angle":90,"align":"left","baseline":"middle","font":"Liberation Sans","fontSize":19,"color":"#000000"},"encoding":{"x":{"datum":2.033,"axis":null},"y":{"datum":1814,"axis":null}}},
{"data":{"values":[{}]},"mark":{"type":"text","text":"45 N - 67.5 N","angle":90,"align":"left","baseline":"middle","font":"Liberation Sans","fontSize":19,"color":"#8e2bd8"},"encoding":{"x":{"datum":1.93,"axis":null},"y":{"datum":1814,"axis":null}}},
{"data":{"values":[{}]},"mark":{"type":"text","text":"22.5 N - 45 N","angle":90,"align":"left","baseline":"middle","font":"Liberation Sans","fontSize":19,"color":"#e8141c"},"encoding":{"x":{"datum":1.83,"axis":null},"y":{"datum":1814,"axis":null}}},
{"data":{"values":[{}]},"mark":{"type":"text","text":"0 - 22.5 N","angle":90,"align":"left","baseline":"middle","font":"Liberation Sans","fontSize":19,"color":"#f77b27"},"encoding":{"x":{"datum":1.728,"axis":null},"y":{"datum":1814,"axis":null}}},
{"data":{"values":[{}]},"mark":{"type":"text","text":"22.5 S - 0","angle":90,"align":"left","baseline":"middle","font":"Liberation Sans","fontSize":19,"color":"#fcd63c"},"encoding":{"x":{"datum":1.628,"axis":null},"y":{"datum":1814,"axis":null}}},
{"data":{"values":[{}]},"mark":{"type":"text","text":"45 S - 22.5 S","angle":90,"align":"left","baseline":"middle","font":"Liberation Sans","fontSize":19,"color":"#1fc21f"},"encoding":{"x":{"datum":1.528,"axis":null},"y":{"datum":1814,"axis":null}}},
{"data":{"values":[{}]},"mark":{"type":"text","text":"67.5 S - 45 S","angle":90,"align":"left","baseline":"middle","font":"Liberation Sans","fontSize":19,"color":"#2aa3ff"},"encoding":{"x":{"datum":1.431,"axis":null},"y":{"datum":1814,"axis":null}}},
{"data":{"values":[{}]},"mark":{"type":"text","text":"90 S - 67.5 S","angle":90,"align":"left","baseline":"middle","font":"Liberation Sans","fontSize":19,"color":"#3a55b8"},"encoding":{"x":{"datum":1.332,"axis":null},"y":{"datum":1814,"axis":null}}},
{"data":{"values":[{}]},"mark":{"type":"text","text":"Mean","font":"DejaVu Sans","fontSize":30,"align":"center","baseline":"alphabetic","color":"#000000"},"encoding":{"x":{"datum":0.095,"axis":null},"y":{"datum":-186,"axis":null}}},
{"data":{"values":[{}]},"mark":{"type":"text","text":"visible","font":"DejaVu Sans","fontSize":30,"align":"center","baseline":"alphabetic","color":"#000000"},"encoding":{"x":{"datum":0.36,"axis":null},"y":{"datum":-186,"axis":null}}},
{"data":{"values":[{}]},"mark":{"type":"text","text":"opacity","font":"DejaVu Sans","fontSize":30,"align":"center","baseline":"alphabetic","color":"#000000"},"encoding":{"x":{"datum":0.726,"axis":null},"y":{"datum":-186,"axis":null}}},
{"data":{"values":[{}]},"mark":{"type":"text","text":"at","font":"DejaVu Sans","fontSize":30,"align":"center","baseline":"alphabetic","color":"#000000"},"encoding":{"x":{"datum":0.988,"axis":null},"y":{"datum":-186,"axis":null}}},
{"data":{"values":[{}]},"mark":{"type":"text","text":"610Pa","font":"DejaVu Sans","fontSize":30,"fontWeight":"bold","align":"center","baseline":"alphabetic","color":"#000000"},"encoding":{"x":{"datum":1.202,"axis":null},"y":{"datum":-186,"axis":null}}},
{"data":{"values":[{}]},"mark":{"type":"text","text":"in","font":"DejaVu Sans","fontSize":30,"align":"center","baseline":"alphabetic","color":"#000000"},"encoding":{"x":{"datum":1.403,"axis":null},"y":{"datum":-186,"axis":null}}},
{"data":{"values":[{}]},"mark":{"type":"text","text":"latitude","font":"DejaVu Sans","fontSize":30,"align":"center","baseline":"alphabetic","color":"#000000"},"encoding":{"x":{"datum":1.66,"axis":null},"y":{"datum":-186,"axis":null}}},
{"data":{"values":[{}]},"mark":{"type":"text","text":"bands","font":"DejaVu Sans","fontSize":30,"align":"center","baseline":"alphabetic","color":"#000000"},"encoding":{"x":{"datum":2.123,"axis":null},"y":{"datum":-186,"axis":null}}}
]
}
